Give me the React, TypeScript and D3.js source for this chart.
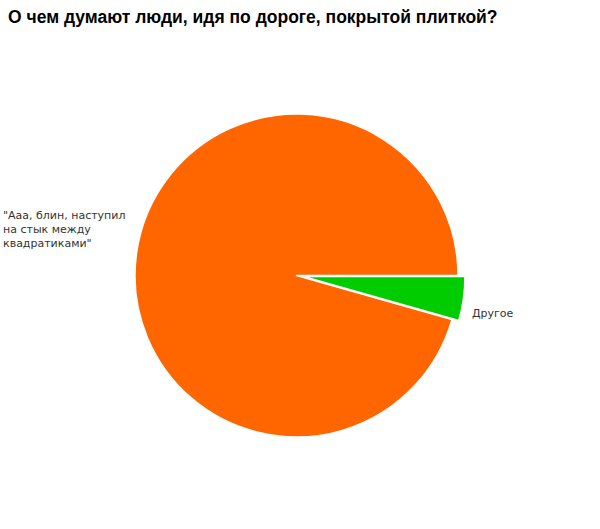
import React from "react";
import * as d3 from "d3";

const title = "О чем думают люди, идя по дороге, покрытой плиткой?";
const categories = ["Другое", "\"Ааа, блин, наступил на стык между квадратиками\""];
const values = [4.4, 95.6];
const colors = ["#00CC00", "#FF6600"];
const leftLabelLines = ["\"Ааа, блин, наступил", "на стык между", "квадратиками\""];

export default function App() {
  const W = 600, H = 529;
  const cx = 296.5, cy = 275.5, r = 161.5;
  const pie = d3.pie<number>().sort(null).startAngle(Math.PI / 2).endAngle(Math.PI / 2 + 2 * Math.PI);
  const arcs = pie(values);
  const arc = d3.arc<d3.PieArcDatum<number>>().innerRadius(0).outerRadius(r);
  const explode = [7, 0];
  return (
    <svg width={W} height={H} style={{ position: "absolute", left: 0, top: 0, background: "#fff" }}>
      <text x={8} y={23} fontFamily="Liberation Sans, Arial, sans-serif" fontWeight="bold" fontSize={17.5} fill="#000">{title}</text>
      {arcs.map((a, i) => {
        const mid = (a.startAngle + a.endAngle) / 2;
        const dx = Math.sin(mid) * explode[i];
        const dy = -Math.cos(mid) * explode[i];
        return (
          <path key={categories[i]} d={arc(a) || ""} transform={`translate(${cx + dx},${cy + dy})`} fill={colors[i]} stroke="#fff" strokeWidth={1.5} strokeLinejoin="round" />
        );
      })}
      <g fontFamily="DejaVu Sans, Verdana, sans-serif" fontSize={11} fill="#333">
        {leftLabelLines.map((l, i) => (
          <text key={i} x={3} y={219 + i * 14}>{l}</text>
        ))}
        <text x={472} y={317}>{categories[0]}</text>
      </g>
    </svg>
  );
}
